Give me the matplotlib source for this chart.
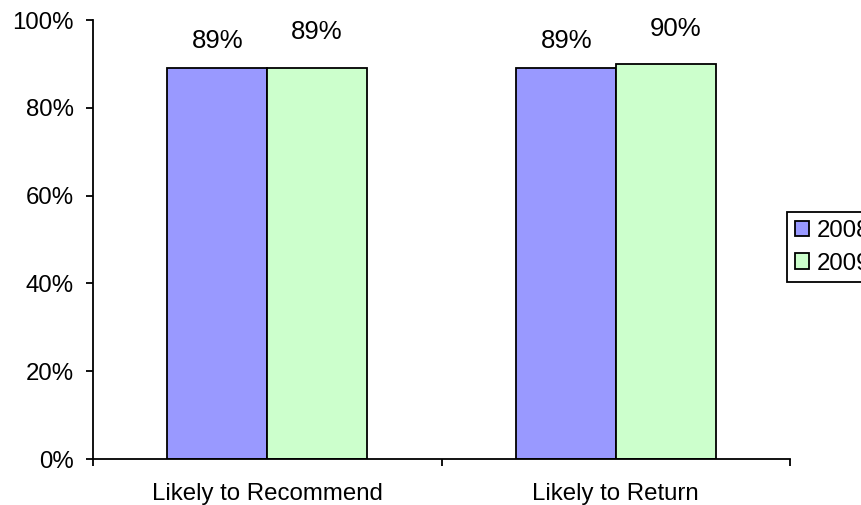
import matplotlib
matplotlib.use("Agg")
import matplotlib.pyplot as plt
import numpy as np
from matplotlib.ticker import FixedLocator, PercentFormatter

categories = ["Likely to Recommend", "Likely to Return"]
series_names = ["2008", "2009"]
values_2008 = [89, 89]
values_2009 = [89, 90]
yticks = [0, 20, 40, 60, 80, 100]

plt.rcParams['font.family'] = ['Liberation Sans', 'DejaVu Sans']
FS = 17.3
FS_LBL = 18.5

fig = plt.figure(figsize=(8.61, 5.05), dpi=100)
ax = fig.add_axes([93/861, 46/505, (790-93)/861, (459-20)/505])

x = np.arange(len(categories))
w = 0.287
colors = ["#9999FF", "#CCFFCC"]
b1 = ax.bar(x - w/2, values_2008, w, color=colors[0], edgecolor="black", linewidth=1.3, label=series_names[0])
b2 = ax.bar(x + w/2, values_2009, w, color=colors[1], edgecolor="black", linewidth=1.3, label=series_names[1])

# data labels (Excel-like offsets, in pixels)
offsets = [[(0, 27), (-1, 36)], [(1, 27), (10, 35)]]
for si, (bars, vals) in enumerate([(b1, values_2008), (b2, values_2009)]):
    for ci, (bar, v) in enumerate(zip(bars, vals)):
        dx, dy = offsets[ci][si]
        ax.annotate(f"{v}%", (bar.get_x() + bar.get_width()/2, v),
                    xytext=(dx, dy), textcoords="offset pixels",
                    ha="center", va="center", fontsize=FS_LBL)

ax.set_xlim(-0.5, len(categories) - 0.5)
ax.set_ylim(0, 100)
ax.set_yticks(yticks)
ax.yaxis.set_major_formatter(PercentFormatter(decimals=0))
ax.tick_params(axis='y', direction='out', length=5, width=1.3, labelsize=FS, pad=9)

ax.xaxis.set_major_locator(FixedLocator(np.arange(len(categories) + 1) - 0.5))
ax.xaxis.set_minor_locator(FixedLocator(x))
ax.set_xticklabels([], minor=False)
ax.set_xticklabels(categories, minor=True)
ax.tick_params(axis='x', which='major', direction='out', length=5, width=1.3)
ax.tick_params(axis='x', which='minor', length=0, labelsize=FS, pad=17)

for s in ["top", "right"]:
    ax.spines[s].set_visible(False)
for s in ["left", "bottom"]:
    ax.spines[s].set_linewidth(1.3)

leg = fig.legend(loc="upper left", bbox_to_anchor=(787/861, 1 - 212/505),
                 fontsize=FS, frameon=True, fancybox=False, edgecolor="black",
                 framealpha=1, handlelength=0.6, handleheight=0.6,
                 handletextpad=0.3, labelspacing=0.45, borderpad=0.32,
                 borderaxespad=0)
leg.get_frame().set_linewidth(1.3)

fig.savefig("out.png", dpi=100)
